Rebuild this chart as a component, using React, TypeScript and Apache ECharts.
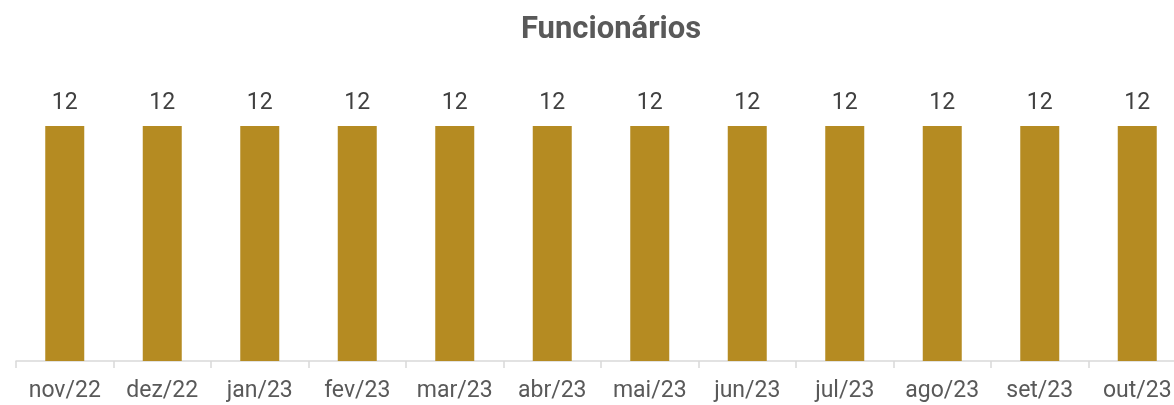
import React, { useEffect, useRef } from "react";
import * as echarts from "echarts";

const categories = ["nov/22", "dez/22", "jan/23", "fev/23", "mar/23", "abr/23", "mai/23", "jun/23", "jul/23", "ago/23", "set/23", "out/23"];
const values = [12, 12, 12, 12, 12, 12, 12, 12, 12, 12, 12, 12];
const title = "Funcionários";

export default function App() {
  const ref = useRef<HTMLDivElement>(null);
  useEffect(() => {
    if (!ref.current) return;
    const chart = echarts.init(ref.current, null, { renderer: "svg" });
    chart.setOption({
      animation: false,
      title: {
        text: title,
        left: 606,
        top: 7,
        textAlign: "center",
        textStyle: { fontFamily: "Roboto", fontWeight: "bold", fontSize: 31, color: "#595959" },
      },
      grid: { left: 16, right: 0, top: 126, bottom: 44, containLabel: false },
      xAxis: {
        type: "category",
        data: categories,
        axisLine: { lineStyle: { color: "#D9D9D9", width: 1.5 } },
        axisTick: { show: true, interval: 0, alignWithLabel: false, length: 7, lineStyle: { color: "#D9D9D9", width: 1.5 } },
        axisLabel: { interval: 0, fontFamily: "Roboto", fontSize: 23, color: "#595959", margin: 17 },
      },
      yAxis: { type: "value", min: 0, max: 12, show: false, splitLine: { show: false } },
      series: [
        {
          type: "bar",
          data: values,
          barWidth: 39,
          itemStyle: { color: "#B58B22" },
          label: { show: true, position: "top", distance: 13, fontFamily: "Roboto", fontSize: 23, color: "#404040" },
        },
      ],
    });
    return () => chart.dispose();
  }, []);
  return <div ref={ref} style={{ position: "fixed", left: 0, top: 0, width: 1186, height: 405 }} />;
}
